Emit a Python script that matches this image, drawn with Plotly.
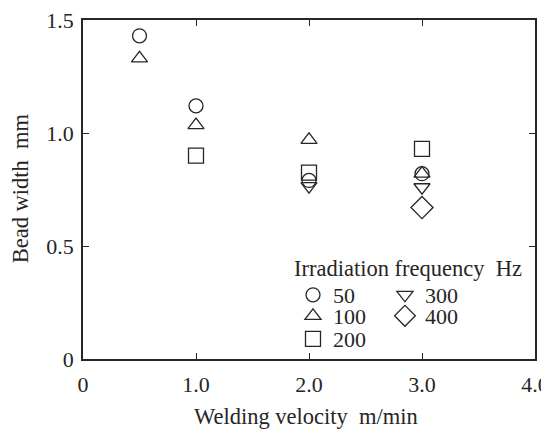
import plotly.graph_objects as go

velocity_50 = [0.5, 1.0, 2.0, 3.0]
width_50 = [1.43, 1.12, 0.79, 0.82]
velocity_100 = [0.5, 1.0, 2.0, 3.0]
width_100 = [1.33, 1.035, 0.97, 0.82]
velocity_200 = [1.0, 2.0, 3.0]
width_200 = [0.90, 0.825, 0.93]
velocity_300 = [2.0, 3.0]
width_300 = [0.765, 0.76]
velocity_400 = [3.0]
width_400 = [0.67]

x_ticks = [0, 1.0, 2.0, 3.0, 4.0]
x_ticktext = ["0", "1.0", "2.0", "3.0", "4.0"]
y_ticks = [0, 0.5, 1.0, 1.5]
y_ticktext = ["0", "0.5", "1.0", "1.5"]

INK = "#262626"
FONT = "Liberation Serif"
FS_TICK = 22
FS_TITLE = 22.5
FS_LEG = 22

series = [
    ("50", velocity_50, width_50, "circle-open", 14, "legend"),
    ("100", velocity_100, width_100, "triangle-up-open", 14, "legend2"),
    ("200", velocity_200, width_200, "square-open", 15, "legend3"),
    ("300", velocity_300, width_300, "triangle-down-open", 14, "legend4"),
    ("400", velocity_400, width_400, "diamond-open", 17, "legend5"),
]

fig = go.Figure()
for name, xs, ys, sym, sz, lg in series:
    fig.add_trace(go.Scatter(
        x=xs, y=ys, mode="markers", name=name, legend=lg,
        marker=dict(symbol=sym, size=sz, color=INK, line=dict(width=1.3, color=INK)),
    ))

axis_common = dict(
    showline=True, linecolor=INK, linewidth=1.5, mirror="ticks",
    ticks="inside", ticklen=6, tickwidth=1.3, tickcolor=INK,
    showgrid=False, zeroline=False, automargin=False,
    ticklabeloverflow="allow",
    tickfont=dict(family=FONT, size=FS_TICK, color=INK),
)

def leg(xp, yp):
    return dict(x=xp, y=yp, xanchor="left", yanchor="middle",
                font=dict(family=FONT, size=FS_LEG, color=INK),
                bgcolor="rgba(0,0,0,0)", itemwidth=30, borderwidth=0)

fig.update_layout(
    width=541, height=426,
    margin=dict(l=75, r=14, t=12, b=75),
    paper_bgcolor="white", plot_bgcolor="white",
    font=dict(family=FONT, size=FS_TICK, color=INK),
    xaxis=dict(range=[0, 4.0], tickvals=x_ticks, ticktext=x_ticktext,
               ticklabelstandoff=5, **axis_common),
    yaxis=dict(range=[0, 1.5], tickvals=y_ticks, ticktext=y_ticktext,
               ticklabelstandoff=3, **axis_common),
    legend=leg(0.4646, 0.1888),
    legend2=leg(0.4646, 0.1268),
    legend3=leg(0.4646, 0.059),
    legend4=leg(0.668, 0.1888),
    legend5=leg(0.668, 0.1268),
    showlegend=True,
    annotations=[
        dict(text="Irradiation frequency\u00a0\u00a0Hz", xref="paper", yref="paper",
             x=0.4624, y=0.266, xanchor="left", yanchor="middle", showarrow=False,
             font=dict(family=FONT, size=22.5, color=INK)),
        dict(text="Welding velocity\u00a0\u00a0m/min", xref="paper", yref="paper",
             x=0.493, y=-0.17, xanchor="center", yanchor="middle", showarrow=False,
             font=dict(family=FONT, size=FS_TITLE, color=INK)),
        dict(text="Bead width\u00a0\u00a0mm", xref="paper", yref="paper",
             x=-0.139, y=0.504, xanchor="center", yanchor="middle", showarrow=False,
             textangle=-90, font=dict(family=FONT, size=FS_TITLE, color=INK)),
    ],
)

fig.write_html("out.html")
